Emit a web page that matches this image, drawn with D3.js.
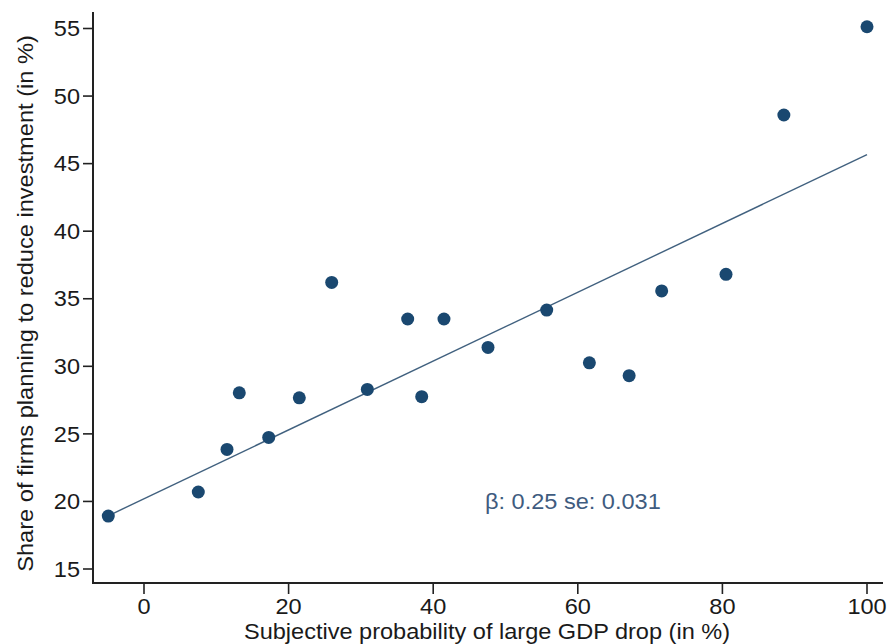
<!DOCTYPE html>
<html>
<head>
<meta charset="utf-8">
<script src="https://cdn.jsdelivr.net/npm/d3@7"></script>
<style>
  html, body { margin: 0; padding: 0; background: #fff; }
  svg { display: block; }
  text { font-family: "Liberation Sans", Arial, sans-serif; }
</style>
</head>
<body>
<svg id="chart" width="889" height="644"></svg>
<script>
// Subjective probability of a large GDP drop (%) per group
const probDrop = [-4.94, 7.51, 11.48, 13.18, 17.25, 21.48, 25.96, 30.89, 36.47, 38.41,
                  41.49, 47.58, 55.7, 61.6, 67.1, 71.6, 80.5, 88.5, 100];
// Share of firms planning to reduce investment (%)
const shareReduce = [18.92, 20.70, 23.85, 28.04, 24.74, 27.67, 36.21, 28.29, 33.50, 27.75,
                     33.50, 31.40, 34.16, 30.26, 29.31, 35.58, 36.81, 48.60, 55.13];
// Fitted regression line endpoints
const fitX = [-4.94, 100];
const fitY = [18.94, 45.67];
// Axis ticks
const xTicks = [0, 20, 40, 60, 80, 100];
const yTicks = [15, 20, 25, 30, 35, 40, 45, 50, 55];
const annotation = "\u03B2: 0.25 se: 0.031";
const xTitle = "Subjective probability of large GDP drop (in %)";
const yTitle = "Share of firms planning to reduce investment (in %)";

const svg = d3.select("#chart");
const x = d3.scaleLinear().domain([0, 100]).range([144, 867]);
const y = d3.scaleLinear().domain([15, 55]).range([569, 28.5]);

const axisLeftX = 93, axisBottomY = 583;
const sx = 1.09; // horizontal glyph stretch of the labels
const fs = 21.6;

// Axis lines
svg.append("line").attr("x1", axisLeftX).attr("x2", axisLeftX)
  .attr("y1", 12).attr("y2", axisBottomY + 1)
  .attr("stroke", "#222").attr("stroke-width", 2);
svg.append("line").attr("x1", axisLeftX - 1).attr("x2", 883)
  .attr("y1", axisBottomY).attr("y2", axisBottomY)
  .attr("stroke", "#222").attr("stroke-width", 2);

// Y ticks
const yt = svg.append("g");
yTicks.forEach(t => {
  yt.append("line").attr("x1", axisLeftX - 10).attr("x2", axisLeftX)
    .attr("y1", y(t)).attr("y2", y(t)).attr("stroke", "#222").attr("stroke-width", 1.6);
  yt.append("text")
    .attr("transform", `translate(80,${y(t) + 7.7}) scale(${sx},1)`)
    .attr("text-anchor", "end").attr("font-size", fs).attr("fill", "#1a1a1a")
    .text(t);
});

// X ticks
const xt = svg.append("g");
xTicks.forEach(t => {
  xt.append("line").attr("x1", x(t)).attr("x2", x(t))
    .attr("y1", axisBottomY).attr("y2", axisBottomY + 11).attr("stroke", "#222").attr("stroke-width", 1.6);
  xt.append("text")
    .attr("transform", `translate(${x(t)},${614}) scale(${sx},1)`)
    .attr("text-anchor", "middle").attr("font-size", fs).attr("fill", "#1a1a1a")
    .text(t);
});

// Axis titles
svg.append("text")
  .attr("transform", `translate(487,639) scale(${sx},1)`)
  .attr("text-anchor", "middle").attr("font-size", fs).attr("fill", "#1a1a1a")
  .text(xTitle);
svg.append("text")
  .attr("transform", `translate(33,303.5) rotate(-90) scale(1.05,1)`)
  .attr("text-anchor", "middle").attr("font-size", 22.5).attr("fill", "#1a1a1a")
  .text(yTitle);

// Fitted line
const line = d3.line().x(d => x(d[0])).y(d => y(d[1]));
svg.append("path")
  .datum(fitX.map((v, i) => [v, fitY[i]]))
  .attr("d", line).attr("fill", "none")
  .attr("stroke", "#41617f").attr("stroke-width", 1.4);

// Points
svg.append("g").selectAll("circle")
  .data(probDrop.map((v, i) => [v, shareReduce[i]]))
  .join("circle")
  .attr("cx", d => x(d[0])).attr("cy", d => y(d[1]))
  .attr("r", 6.5).attr("fill", "#1a4870");

// Coefficient annotation
svg.append("text")
  .attr("transform", `translate(485,509) scale(${sx},1)`)
  .attr("font-size", fs).attr("fill", "#3f5c7f")
  .text(annotation);
</script>
</body>
</html>
